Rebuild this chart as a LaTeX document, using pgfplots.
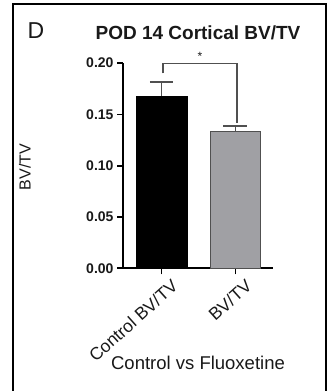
\documentclass[border=0pt]{standalone}
\usepackage{fontspec}
\setmainfont{Liberation Sans}
\usepackage{pgfplots}
\pgfplotsset{compat=1.18}
\definecolor{barg}{RGB}{160,160,164}
\definecolor{txt}{RGB}{25,25,25}
\definecolor{errc}{RGB}{80,80,80}
\begin{document}
\begin{tikzpicture}
\path[use as bounding box] (0pt,0pt) rectangle (332pt,391pt);
\draw[line width=1.5pt] (13pt,-5pt) -- (13pt,387pt) -- (326pt,387pt) -- (326pt,-5pt);
\node[text=txt,font=\fontsize{23}{25}\selectfont] at (36pt,360pt) {D};
\node[text=txt,font=\fontsize{19}{21}\selectfont\bfseries] at (198pt,358pt) {POD 14 Cortical BV/TV};
\node[text=txt,rotate=90,font=\fontsize{16}{18}\selectfont] at (25pt,224pt) {BV/TV};
\node[text=txt,font=\fontsize{18.5}{20}\selectfont] at (198pt,28pt) {Control vs Fluoxetine};
\begin{axis}[
  at={(123pt,122.7pt)}, anchor=south west,
  scale only axis, width=150pt, height=205.2pt,
  xmin=-0.52, xmax=1.507, ymin=0, ymax=0.2,
  axis lines=left,
  axis line style={line width=1.6pt, -},
  tick style={line width=1.6pt, black},
  major tick length=6pt, tick align=outside,
  xtick={0,1}, xticklabels={Control BV/TV, BV/TV},
  ytick={0,0.05,0.1,0.15,0.2},
  /pgf/number format/assume math mode=true,
  yticklabel={\pgfmathprintnumber[fixed,fixed zerofill,precision=2]{\tick}},
  xticklabel style={rotate=42, anchor=north east, inner sep=2pt, xshift=6pt, yshift=-7pt, text=txt, font=\fontsize{17.5}{19}\selectfont},
  yticklabel style={text=txt, font=\fontsize{14}{15}\selectfont\bfseries},
  clip=false,
]
\addplot[ybar, bar shift=0pt, bar width=51pt, fill=black, draw=black,
  error bars/.cd, y dir=plus, y explicit,
  error bar style={line width=1.3pt, color=errc},
  error mark options={rotate=90, mark size=11.5pt, line width=1.3pt, color=errc}]
  coordinates {(0,0.168) +- (0,0.0136)};
\addplot[ybar, bar shift=0pt, bar width=50pt, fill=barg, draw=errc, line width=0.8pt,
  error bars/.cd, y dir=plus, y explicit,
  error bar style={line width=1.3pt, color=errc},
  error mark options={rotate=90, mark size=12pt, line width=1.3pt, color=errc}]
  coordinates {(1,0.133) +- (0,0.0057)};
\draw[errc, line width=1.2pt] (axis cs:0.02,0.190) -- (axis cs:0.02,0.1995) -- (axis cs:1.02,0.1995) -- (axis cs:1.02,0.1415);
\node[text=txt, font=\fontsize{12}{13}\selectfont] at (axis cs:0.52,0.207) {*};
\end{axis}
\end{tikzpicture}
\end{document}
